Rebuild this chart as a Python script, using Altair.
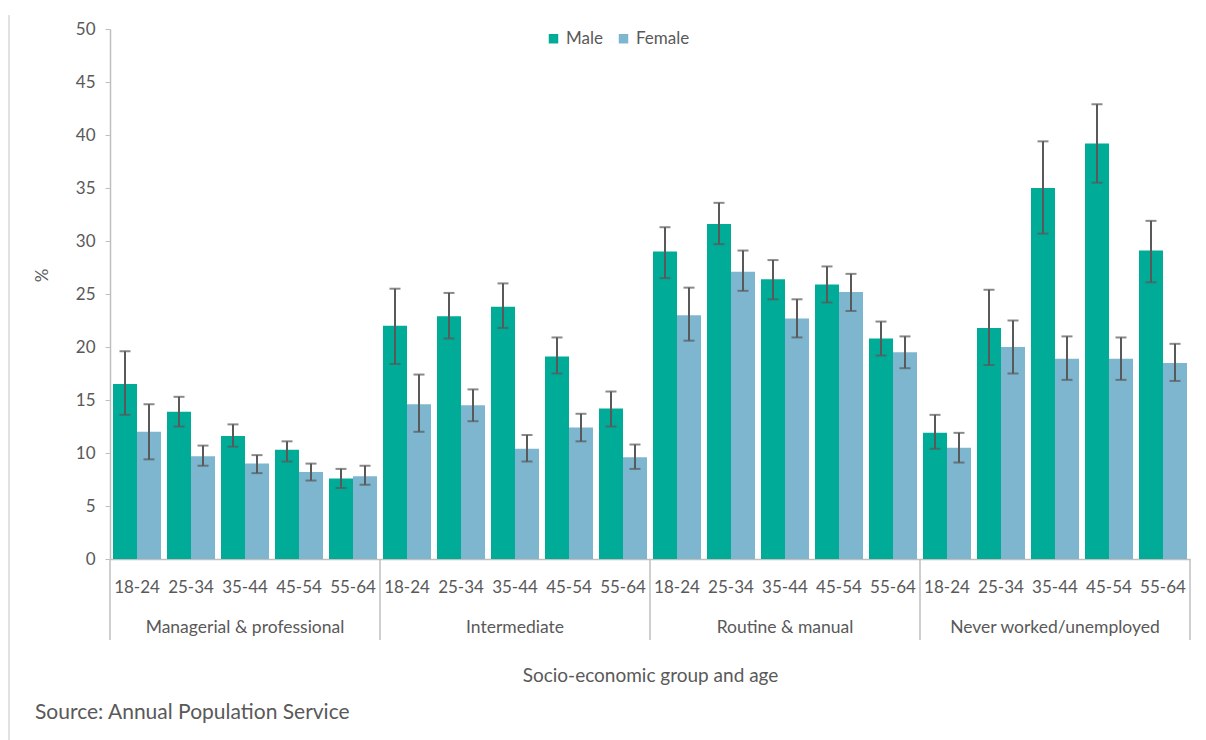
import altair as alt
import pandas as pd

groups = ["Managerial & professional", "Intermediate", "Routine & manual", "Never worked/unemployed"]
ages = ["18-24", "25-34", "35-44", "45-54", "55-64"]
sexes = ["Male", "Female"]

male = [16.5, 13.9, 11.6, 10.3, 7.6,
        22.0, 22.9, 23.8, 19.1, 14.2,
        29.0, 31.6, 26.4, 25.9, 20.8,
        11.9, 21.8, 35.0, 39.2, 29.1]
male_low = [13.6, 12.5, 10.6, 9.2, 6.7,
            18.4, 20.8, 21.8, 17.5, 12.5,
            26.5, 29.7, 24.5, 24.2, 19.2,
            10.4, 18.3, 30.7, 35.5, 26.1]
male_high = [19.6, 15.3, 12.7, 11.1, 8.5,
             25.5, 25.1, 26.0, 20.9, 15.8,
             31.3, 33.6, 28.2, 27.6, 22.4,
             13.6, 25.4, 39.4, 42.9, 31.9]
female = [12.0, 9.7, 9.0, 8.2, 7.8,
          14.6, 14.5, 10.4, 12.4, 9.6,
          23.0, 27.1, 22.7, 25.2, 19.5,
          10.5, 20.0, 18.9, 18.9, 18.5]
female_low = [9.4, 8.8, 8.1, 7.4, 7.0,
              12.0, 13.0, 9.2, 11.1, 8.5,
              20.6, 25.3, 20.9, 23.4, 18.0,
              9.1, 17.5, 16.9, 16.9, 16.8]
female_high = [14.6, 10.7, 9.8, 9.0, 8.8,
               17.4, 16.0, 11.7, 13.7, 10.8,
               25.6, 29.1, 24.5, 26.9, 21.0,
               11.9, 22.5, 21.0, 20.9, 20.3]
y_ticks = [0, 5, 10, 15, 20, 25, 30, 35, 40, 45, 50]
x_title = "Socio-economic group and age"
y_title = "%"
source_note = "Source: Annual Population Service"

keys = [f"{g}|{a}" for g in groups for a in ages]
rows = []
for i, k in enumerate(keys):
    rows.append(dict(key=k, sex="Male", value=male[i], lo=male_low[i], hi=male_high[i]))
    rows.append(dict(key=k, sex="Female", value=female[i], lo=female_low[i], hi=female_high[i]))
df = pd.DataFrame(rows)

FONT = "Lato"
TXT = "#595959"
AXC = "#BFBFBF"
ERR = "#595959"

xscale = alt.Scale(domain=keys, paddingInner=0.111, paddingOuter=0.0556)
x_axis = alt.Axis(
    title=x_title, labelExpr="split(datum.label, '|')[1]", labelAngle=0, ticks=False,
    domainColor=AXC, domainWidth=1.5, labelColor=TXT, labelFont=FONT, labelFontSize=17,
    labelPadding=20, labelBaseline="top", titleFont=FONT, titleFontSize=19, titleColor=TXT,
    titleFontWeight="normal", titleY=116, titleBaseline="middle", grid=False, labelOverlap=False,
)


def xenc(bp=None):
    if bp is None:
        return alt.X("key:N", scale=xscale, sort=keys, axis=x_axis)
    return alt.X("key:N", scale=xscale, sort=keys, axis=x_axis, bandPosition=bp)


xoff = alt.XOffset("sex:N", sort=sexes, scale=alt.Scale(domain=sexes, paddingInner=0, paddingOuter=0))
y_axis = alt.Axis(
    title=y_title, values=y_ticks, grid=False, domainColor=AXC, domainWidth=1.5, tickColor=AXC,
    tickSize=5, labelColor=TXT, labelFont=FONT, labelFontSize=17, labelPadding=10,
    titleFont=FONT, titleFontSize=17, titleColor=TXT, titleFontWeight="normal",
    titleX=-68, titleY=246, titleAlign="center", titleBaseline="middle", titleAngle=-90,
)
yscale = alt.Scale(domain=[0, 50])

bars = alt.Chart(df).mark_bar().encode(
    x=xenc(),
    xOffset=xoff,
    y=alt.Y("value:Q", scale=yscale, axis=y_axis),
    color=alt.Color("sex:N", sort=sexes,
                    scale=alt.Scale(domain=sexes, range=["#00AC97", "#7EB6CF"]),
                    legend=alt.Legend(title=None, orient="none", legendX=435, legendY=1,
                                      direction="horizontal", symbolType="square", symbolSize=90,
                                      symbolStrokeWidth=0, labelFont=FONT, labelFontSize=17,
                                      labelColor=TXT, columnPadding=12, labelOffset=4)),
)
whisk = alt.Chart(df).mark_rule(color=ERR, strokeWidth=2).encode(
    x=xenc(), xOffset=xoff,
    y=alt.Y("lo:Q", scale=yscale, axis=y_axis), y2="hi:Q",
)
cap_hi = alt.Chart(df).mark_tick(color=ERR, thickness=2, size=11).encode(
    x=xenc(), xOffset=xoff, y=alt.Y("hi:Q", scale=yscale, axis=y_axis),
)
cap_lo = alt.Chart(df).mark_tick(color=ERR, thickness=2, size=11).encode(
    x=xenc(), xOffset=xoff, y=alt.Y("lo:Q", scale=yscale, axis=y_axis),
)

glab = pd.DataFrame({"key": [f"{g}|35-44" for g in groups], "label": groups})
group_text = alt.Chart(glab).mark_text(font=FONT, fontSize=17.5, color=TXT, baseline="middle").encode(
    x=xenc(), y=alt.value(599), text="label:N",
)
sep_left_df = pd.DataFrame({"key": [f"{g}|18-24" for g in groups]})
sep_left = alt.Chart(sep_left_df).mark_rule(color=AXC, strokeWidth=1.5, xOffset=-3).encode(
    x=xenc(0), y=alt.value(530), y2=alt.value(611),
)
sep_right = alt.Chart(pd.DataFrame({"a": [0]})).mark_rule(color=AXC, strokeWidth=1.5).encode(
    x=alt.value(1080), y=alt.value(530), y2=alt.value(611),
)
src = alt.Chart(pd.DataFrame({"t": [source_note]})).mark_text(
    font=FONT, fontSize=21, color=TXT, align="left", baseline="middle").encode(
    x=alt.value(-75), y=alt.value(684), text="t:N")
frame = alt.Chart(pd.DataFrame({"a": [0]})).mark_rule(color="#D9D9D9", strokeWidth=1.5).encode(
    x=alt.value(-101), y=alt.value(-14), y2=alt.value(711))

chart = alt.layer(bars, whisk, cap_hi, cap_lo, group_text, sep_left, sep_right, src, frame).properties(
    width=1080, height=530,
    padding={"left": 110, "top": 29, "right": 16, "bottom": 181},
    autosize=alt.AutoSizeParams(type="none"),
    background="white",
).configure_view(stroke=None)

chart.save("out.html", embed_options={"renderer": "svg", "actions": False})
